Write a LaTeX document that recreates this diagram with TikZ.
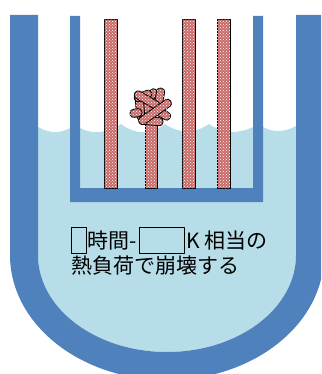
\documentclass[tikz,border=0pt]{standalone}
\usepackage{fontspec}
\newfontfamily\jpfont{Noto Sans CJK JP}
\usepackage{tikz}
\usetikzlibrary{patterns}
\definecolor{vesselblue}{HTML}{4F81BD}
\definecolor{coolant}{HTML}{B7DEE8}
\definecolor{rodred}{HTML}{C0504D}
\tikzset{
    wall/.style={fill=vesselblue},
    rod/.style={draw=black, line width=0.9pt, fill=rodred!85!white,
        postaction={pattern=crosshatch dots, pattern color=white}},
    piece/.style={rod, rounded corners=3.5pt},
    blank/.style={draw=black, line width=1.2pt, inner sep=0pt, minimum height=26pt},
    heattext/.style={font=\jpfont\fontsize{21}{24}\selectfont, inner sep=0pt, anchor=base west},
}

\begin{document}
\begin{tikzpicture}[x=1pt, y=-1pt, line join=round]
        \useasboundingbox (0,0) rectangle (321,374);
        \clip (0,0) rectangle (321,374);

        \begin{scope}
            \clip (38,0) -- (38,255) arc[start angle=180, end angle=0, x radius=129, y radius=97] -- (296,0) -- cycle;
            \fill[coolant] (30,127) -- (38,127) .. controls +(11,6) and +(-11,6) .. (70,128)
                -- (80,128) .. controls +(13,7) and +(-13,9) .. (121,124)
                .. controls +(15,11) and +(-15,11) .. (165,124)
                .. controls +(15,10) and +(-15,10) .. (209,124)
                .. controls +(15,10) and +(-15,7) .. (253,127)
                -- (263,127) .. controls +(11,6) and +(-11,6) .. (296,126)
                -- (305,126) -- (305,380) -- (30,380) -- cycle;
        \end{scope}

        \fill[wall] (10,15) -- (10,255) arc[start angle=180, end angle=0, x radius=157, y radius=125]
            -- (324,15) -- (296,15) -- (296,255) arc[start angle=0, end angle=180, x radius=129, y radius=97]
            -- (38,15) -- cycle;
        \fill[wall] (70,16) rectangle (80,202) (253,16) rectangle (263,202) (70,188) rectangle (263,202);

        \foreach \x in {104,182,217}
            \draw[rod] (\x,19) rectangle +(13,169);
        \draw[rod] (145,118) rectangle (157,188);
        \foreach \cx/\cy/\a/\l in {150/106/-60/22, 148/110/120/20, 140/107/95/26, 136/113/10/12,
                151/96/50/16, 143/96/20/18, 159/101/80/26, 147/100/-30/28, 151/121/-5/24,
                163/114/-30/16, 155/112/35/38}
            \draw[piece, shift={(\cx,\cy)}, rotate=\a] (-\l/2,-4) rectangle (\l/2,4);

        \node[blank, minimum width=15pt, anchor=north west] (blankA) at (71,227) {};
        \node[heattext] (lineA) at (87,248.5) {時間-};
        \node[blank, minimum width=45pt, anchor=north west] (blankB) at (139,227) {};
        \node[heattext] (lineB) at (186,248.5) {K 相当の};
        \node[heattext] (lineC) at (71,273.5) {熱負荷で崩壊する};
\end{tikzpicture}
\end{document}
